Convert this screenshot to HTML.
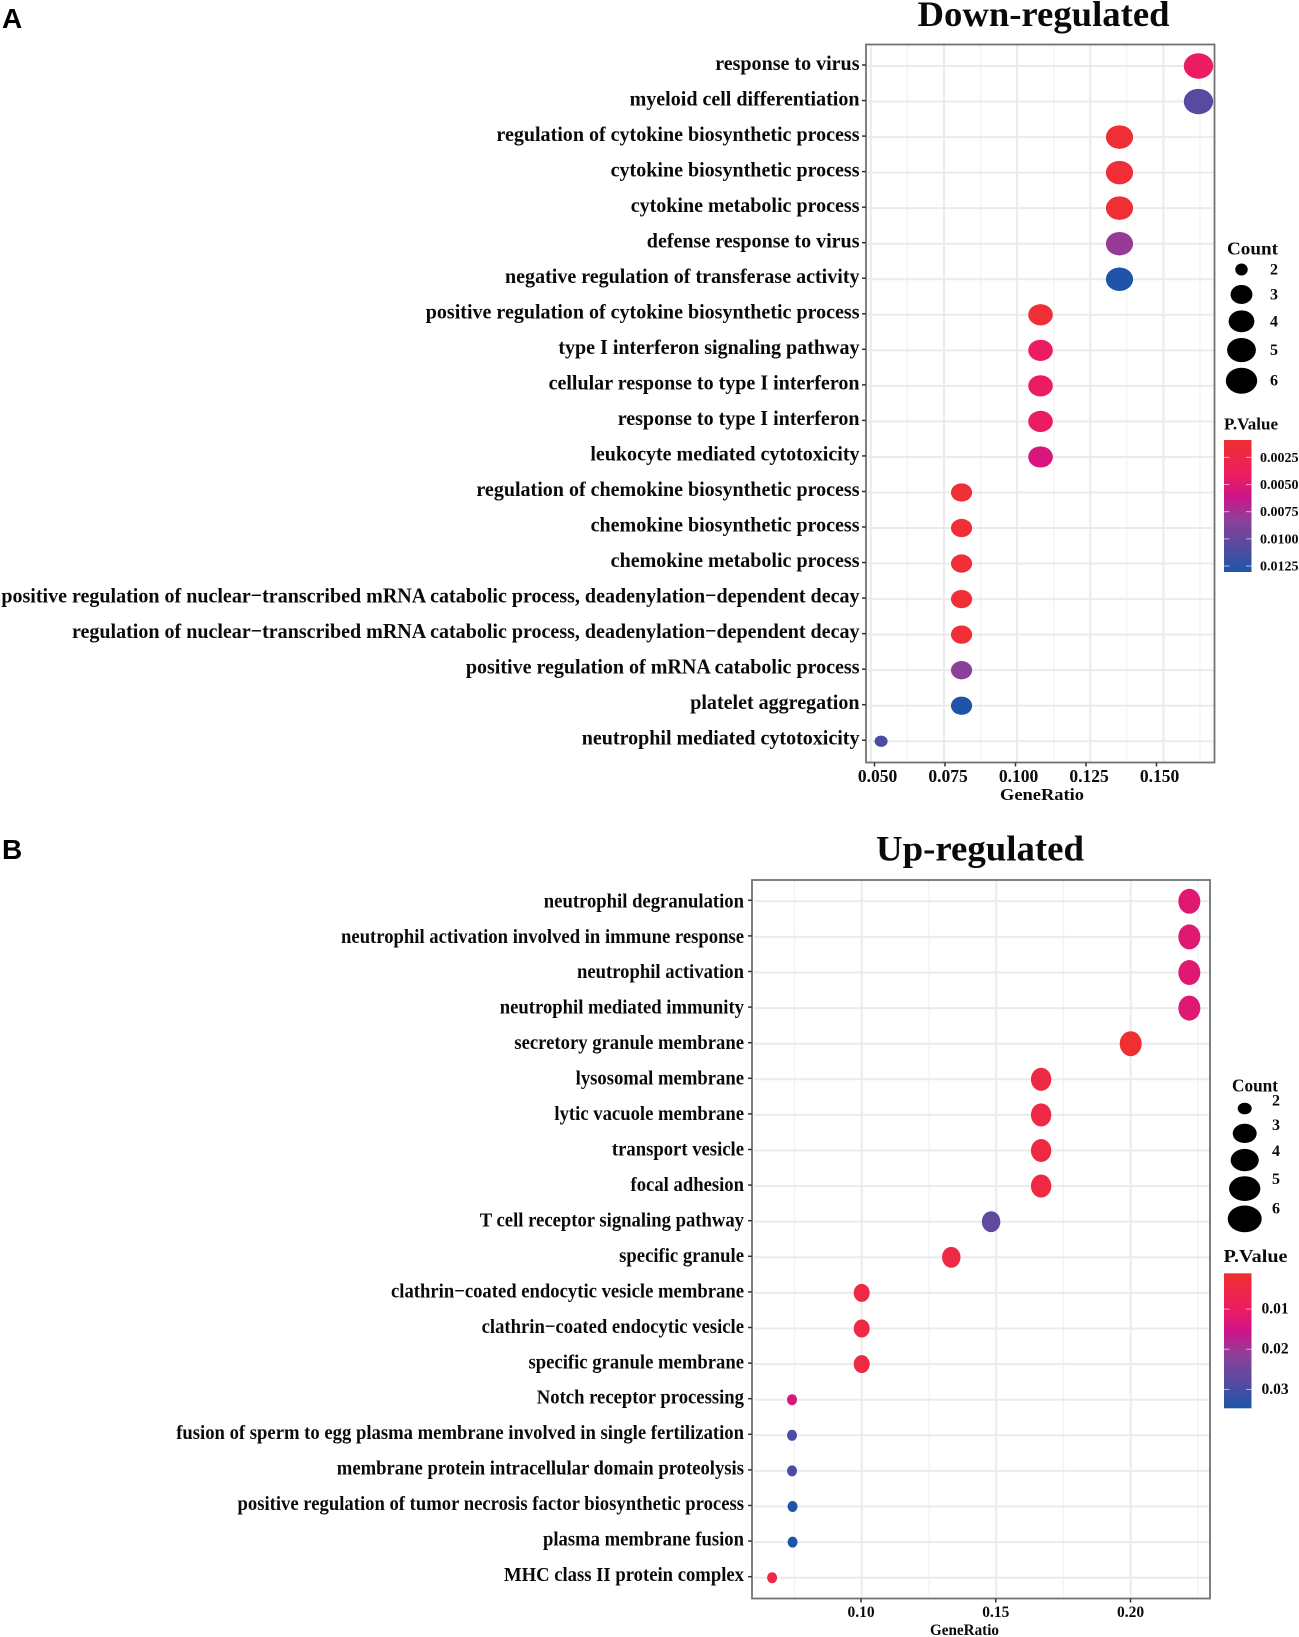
<!DOCTYPE html>
<html lang="en">
<head>
<meta charset="utf-8">
<title>Down-regulated and Up-regulated GO enrichment</title>
<style>
html,body{margin:0;padding:0;background:#fff;}
svg{display:block;}
text{font-family:"Liberation Serif",serif;font-weight:bold;fill:#0a0a0a;}
.panel-letter{font-family:"Liberation Sans",sans-serif;font-size:28px;fill:#000;}
</style>
</head>
<body>
<svg id="chart" xmlns="http://www.w3.org/2000/svg" width="1299" height="1637" viewBox="0 0 1299 1637">
  <rect x="0" y="0" width="1299" height="1637" fill="#fff"/>
  <text class="panel-letter" x="2" y="28">A</text>
  <text class="panel-letter" x="2" y="859">B</text>
  <text x="917.5" y="26" font-size="36" textLength="252" lengthAdjust="spacingAndGlyphs">Down-regulated</text>
  <text x="876" y="860.5" font-size="36" textLength="208" lengthAdjust="spacingAndGlyphs">Up-regulated</text>
  <text x="1042" y="800" font-size="17" text-anchor="middle" textLength="84" lengthAdjust="spacingAndGlyphs">GeneRatio</text>
  <text x="964.5" y="1635" font-size="16" text-anchor="middle" textLength="69" lengthAdjust="spacingAndGlyphs">GeneRatio</text>
  <text x="1252.5" y="254.5" font-size="18" text-anchor="middle" textLength="51" lengthAdjust="spacingAndGlyphs">Count</text>
  <text x="1255" y="1091.5" font-size="18" text-anchor="middle" textLength="46" lengthAdjust="spacingAndGlyphs">Count</text>
  <text x="1224" y="429.5" font-size="16.5" textLength="54" lengthAdjust="spacingAndGlyphs">P.Value</text>
  <text x="1223.5" y="1262" font-size="18" textLength="64" lengthAdjust="spacingAndGlyphs">P.Value</text>
</svg>
<script>
// Panel A data
const categoriesA = ["response to virus","myeloid cell differentiation","regulation of cytokine biosynthetic process","cytokine biosynthetic process","cytokine metabolic process","defense response to virus","negative regulation of transferase activity","positive regulation of cytokine biosynthetic process","type I interferon signaling pathway","cellular response to type I interferon","response to type I interferon","leukocyte mediated cytotoxicity","regulation of chemokine biosynthetic process","chemokine biosynthetic process","chemokine metabolic process","positive regulation of nuclear\u2212transcribed mRNA catabolic process, deadenylation\u2212dependent decay","regulation of nuclear\u2212transcribed mRNA catabolic process, deadenylation\u2212dependent decay","positive regulation of mRNA catabolic process","platelet aggregation","neutrophil mediated cytotoxicity"];
const ratioA = [0.162,0.162,0.135,0.135,0.135,0.135,0.135,0.108,0.108,0.108,0.108,0.108,0.081,0.081,0.081,0.081,0.081,0.081,0.081,0.0535];
const countA = [6,6,5,5,5,5,5,4,4,4,4,4,3,3,3,3,3,3,3,2];
const pvalA = [0.0042,0.0106,0.0012,0.0012,0.0012,0.0079,0.013,0.0012,0.0042,0.0042,0.0042,0.0055,0.0012,0.0012,0.0012,0.0012,0.0012,0.0084,0.013,0.0111];
const xTicksA = [0.05,0.075,0.1,0.125,0.15];
const xTickLabelsA = ["0.050","0.075","0.100","0.125","0.150"];
const xMinorA = [0.0625,0.0875,0.1125,0.1375,0.1625];
const legendCountsA = [2,3,4,5,6];
const pTicksA = [0.0025,0.005,0.0075,0.01,0.0125];
const pTickLabelsA = ["0.0025","0.0050","0.0075","0.0100","0.0125"];

// Panel B data
const categoriesB = ["neutrophil degranulation","neutrophil activation involved in immune response","neutrophil activation","neutrophil mediated immunity","secretory granule membrane","lysosomal membrane","lytic vacuole membrane","transport vesicle","focal adhesion","T cell receptor signaling pathway","specific granule","clathrin\u2212coated endocytic vesicle membrane","clathrin\u2212coated endocytic vesicle","specific granule membrane","Notch receptor processing","fusion of sperm to egg plasma membrane involved in single fertilization","membrane protein intracellular domain proteolysis","positive regulation of tumor necrosis factor biosynthetic process","plasma membrane fusion","MHC class II protein complex"];
const ratioB = [0.2218,0.2218,0.2218,0.2218,0.2,0.1667,0.1667,0.1667,0.1667,0.1481,0.1333,0.1,0.1,0.1,0.0741,0.0741,0.0741,0.0743,0.0743,0.0667];
const countB = [6,6,6,6,6,5,5,5,5,4,4,3,3,3,2,2,2,2,2,2];
const pvalB = [0.0125,0.0125,0.0125,0.0125,0.0015,0.0045,0.0045,0.0045,0.0045,0.027,0.0045,0.0045,0.0045,0.0045,0.0135,0.0293,0.0293,0.0345,0.0345,0.005];
const xTicksB = [0.1,0.15,0.2];
const xTickLabelsB = ["0.10","0.15","0.20"];
const xMinorB = [0.075,0.125,0.175,0.225];
const legendCountsB = [2,3,4,5,6];
const pTicksB = [0.01,0.02,0.03];
const pTickLabelsB = ["0.01","0.02","0.03"];

const svg = document.getElementById('chart');
const NS = 'http://www.w3.org/2000/svg';
function mk(tag, attrs, parent){
  const e = document.createElementNS(NS, tag);
  for (const k in attrs) e.setAttribute(k, attrs[k]);
  (parent || svg).appendChild(e);
  return e;
}
const rampOffsets = [0,0.27,0.43,0.6,0.8,1];
const rampColors = [[239,48,48],[236,28,98],[205,20,136],[142,64,152],[88,74,160],[29,85,168]];
function rampColor(t){
  t = Math.max(0, Math.min(1, t));
  for (let i = 1; i < rampOffsets.length; i++){
    if (t <= rampOffsets[i]){
      const f = (t - rampOffsets[i-1]) / (rampOffsets[i] - rampOffsets[i-1]);
      const a = rampColors[i-1], b = rampColors[i];
      return 'rgb(' + [0,1,2].map(j => Math.round(a[j] + (b[j]-a[j])*f)).join(',') + ')';
    }
  }
  return 'rgb(29,85,168)';
}
function root(c){ return Math.sqrt((c-2)/4); }

function drawPanel(cfg, cats, ratios, counts, pvals, ticks, tickLabels, minor, legendCounts, pTicks, pTickLabels){
  const p = cfg.id;
  const g = mk('g', {});
  
  
  const rowY = i => cfg.rowTop + i * cfg.rowStep;
  const labelY = i => cfg.rowTop + cfg.labelDy + i * cfg.labelStep;
  const tVal = v => (v - cfg.pMin) / (cfg.pMax - cfg.pMin);
  const barY = v => cfg.barTop + tVal(v) * (cfg.barBottom - cfg.barTop);

  // gridlines
  minor.forEach(v => {
    const l = mk('line', {x1:cfg.x(v),x2:cfg.x(v),y1:cfg.top,y2:cfg.bottom,stroke:'#f3f3f3','stroke-width':1.3}, g);
    
    
  });
  ticks.forEach(v => {
    const l = mk('line', {x1:cfg.x(v),x2:cfg.x(v),y1:cfg.top,y2:cfg.bottom,stroke:'#ebebeb','stroke-width':2}, g);
    
    
  });
  cats.forEach((c,i) => {
    const l = mk('line', {x1:cfg.left+2,x2:cfg.right-1,y1:rowY(i),y2:rowY(i),stroke:'#ebebeb','stroke-width':2}, g);
    
    
  });

  // border
  const frame = mk('rect', {x:cfg.left,y:cfg.top,width:cfg.right-cfg.left,height:cfg.bottom-cfg.top,fill:'none',stroke:'#6f7472','stroke-width':1.8}, g);
  
  

  // measure the longest label so the whole column fits the condensed width of the figure
  const probe = mk('text', {'font-size':cfg.font,x:0,y:-50});
  
  
  probe.textContent = cats.reduce((a,b) => a.length >= b.length ? a : b);
  const sx = cfg.longest / probe.getComputedTextLength();
  probe.remove();

  // y labels + ticks
  cats.forEach((c,i) => {
    const tk = mk('line', {x1:cfg.left-4,x2:cfg.left,y1:rowY(i)-1,y2:rowY(i)-1,stroke:'#333','stroke-width':1.5}, g);
    
    
    const t = mk('text', {'text-anchor':'end','font-size':cfg.font,transform:'translate('+cfg.labelRight+','+labelY(i)+') scale('+sx+',1)'}, g);
    
    
    t.textContent = c;
  });

  // x ticks and labels
  ticks.forEach((v,i) => {
    const tk = mk('line', {x1:cfg.xLab(v)-cfg.tickShift,x2:cfg.xLab(v)-cfg.tickShift,y1:cfg.bottom,y2:cfg.bottom+4,stroke:'#333','stroke-width':1.5}, g);
    
    
    const t = mk('text', {x:cfg.xLab(v),y:cfg.tickY,'font-size':cfg.tickFont,'text-anchor':'middle'}, g);
    
    
    t.textContent = tickLabels[i];
  });

  // dots
  cats.forEach((c,i) => {
    const d = mk('ellipse', {cx:cfg.x(ratios[i]),cy:rowY(i),rx:cfg.rx(counts[i]),ry:cfg.ry(counts[i]),fill:rampColor(tVal(pvals[i]))}, g);
    
    
  });

  // count legend
  legendCounts.forEach((c,i) => {
    const d = mk('ellipse', {cx:cfg.legendX,cy:cfg.legendY(c),rx:cfg.legendRx(c),ry:cfg.legendRy(c),fill:'#000'}, g);
    
    
    const t = mk('text', {x:cfg.legendTextX,y:cfg.legendTextY(c),'font-size':16,'text-anchor':'middle'}, g);
    
    
    t.textContent = c;
  });

  // colour bar
  const defs = mk('defs', {}, g);
  const grad = mk('linearGradient', {id:'ramp-'+p,x1:0,y1:0,x2:0,y2:1}, defs);
  rampOffsets.forEach((o,i) => {
    mk('stop', {offset:o,'stop-color':'rgb('+rampColors[i].join(',')+')'}, grad);
  });
  const bar = mk('rect', {x:1224,y:cfg.barTop,width:27.5,height:cfg.barBottom-cfg.barTop,fill:'url(#ramp-'+p+')'}, g);
  
  
  pTicks.forEach((v,i) => {
    const y = barY(v);
    const a = mk('line', {x1:1224,x2:1229.5,y1:y,y2:y,stroke:'#fff','stroke-opacity':.6,'stroke-width':1}, g);
    
    
    const b = mk('line', {x1:1246,x2:1251.5,y1:y,y2:y,stroke:'#fff','stroke-opacity':.6,'stroke-width':1}, g);
    
    
    const t = mk('text', {x:cfg.barLabelX,y:y+4.5,'font-size':cfg.barFont}, g);
    
    
    t.textContent = pTickLabels[i];
  });
}

drawPanel({
  id:'a', left:866, right:1214.5, top:44.5, bottom:762.5,
  rowTop:66, rowStep:35.54, labelRight:859.5, labelDy:4.2, labelStep:35.5, font:21.5, longest:859,
  x:v => 944 + (v - 0.075) * 2925,
  xLab:v => 877.5 + (v - 0.05) * 2820, tickShift:3, tickY:782, tickFont:17.5,
  rx:c => 6.5 + 8.2 * root(c), ry:c => 5.6 + 7.1 * root(c),
  legendX:1241.5, legendY:c => 269.5 + (c-2)*24 + (c-2)*(c-2)*0.95,
  legendRx:c => 6.2 + 9.5 * root(c), legendRy:c => 6 + 7 * root(c),
  legendTextX:1274, legendTextY:c => 274.5 + (c-2)*24 + (c-2)*(c-2)*0.95,
  pMin:0.0009, pMax:0.01305, barTop:440, barBottom:572, barLabelX:1260, barFont:14
}, categoriesA, ratioA, countA, pvalA, xTicksA, xTickLabelsA, xMinorA, legendCountsA, pTicksA, pTickLabelsA);

drawPanel({
  id:'b', left:752, right:1210, top:880, bottom:1598.5,
  rowTop:901.3, rowStep:35.6, labelRight:744, labelDy:6, labelStep:35.46, font:20.5, longest:568,
  x:v => 861.7 + (v - 0.1) * 2690,
  xLab:v => 861 + (v - 0.1) * 2695, tickShift:0, tickY:1617, tickFont:15.5,
  rx:c => 5 + 6 * root(c), ry:c => 5.5 + 7 * root(c),
  legendX:1244.7, legendY:c => 1108.5 + (c-2)*24 + (c-2)*(c-2)*0.9,
  legendRx:c => 7 + 10 * root(c), legendRy:c => 5.8 + 7.6 * root(c),
  legendTextX:1276, legendTextY:c => 1105.5 + (c-2)*23.5 + (c-2)*(c-2)*0.87,
  pMin:0.0011, pMax:0.0347, barTop:1273.3, barBottom:1408.3, barLabelX:1261.5, barFont:15.5
}, categoriesB, ratioB, countB, pvalB, xTicksB, xTickLabelsB, xMinorB, legendCountsB, pTicksB, pTickLabelsB);
</script>
</body>
</html>
